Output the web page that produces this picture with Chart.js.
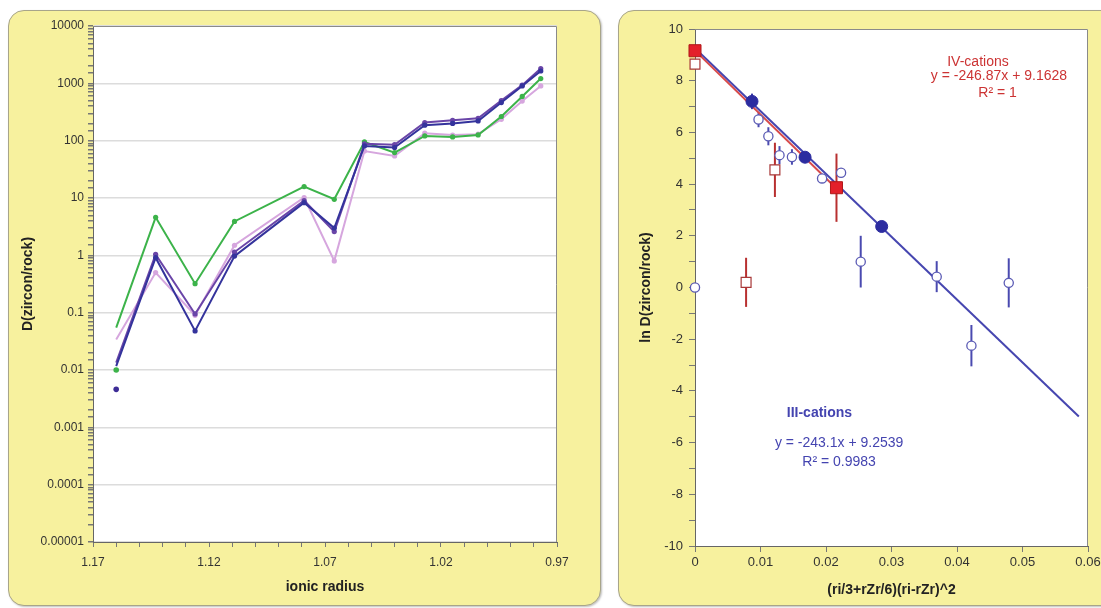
<!DOCTYPE html>
<html>
<head>
<meta charset="utf-8">
<script src="https://cdn.jsdelivr.net/npm/chart.js@4.4.0/dist/chart.umd.min.js"></script>
<style>
body { margin:0; width:1101px; height:608px; background:#fff; overflow:hidden; position:relative; font-family:"Liberation Sans", Arial, sans-serif; }
.panel { position:absolute; background:#f7f19e; border:1px solid #a8a58a; border-radius:16px; box-shadow:1px 1px 2px rgba(0,0,0,0.25); }
#p1 { left:8px; top:10px; width:591px; height:594px; }
#p2 { left:618px; top:10px; width:500px; height:594px; }
canvas { position:absolute; top:0; }
#c1 { left:0; }
#c2 { left:600px; }
</style>
</head>
<body>
<div class="panel" id="p1"></div>
<div class="panel" id="p2"></div>
<canvas id="c1" width="600" height="608"></canvas>
<canvas id="c2" width="501" height="608"></canvas>
<script>
// ---- left panel: D(zircon/rock) vs ionic radius (REE, La..Lu) ----
var radius  = [1.160, 1.143, 1.126, 1.109, 1.079, 1.066, 1.053, 1.040, 1.027, 1.015, 1.004, 0.994, 0.985, 0.977];
var greenD  = [0.055, 4.6, 0.32, 3.9, 15.8, 9.5, 95, 62, 121, 116, 126, 264, 590, 1210];
var pinkD   = [0.034, 0.50, 0.09, 1.5, 10.2, 0.8, 66, 54, 135, 125, 130, 236, 490, 900];
var purpleD = [0.0134, 1.04, 0.095, 1.14, 9.0, 2.6, 88, 85, 207, 227, 246, 500, 930, 1810];
var blueD   = [0.0117, 0.91, 0.048, 0.97, 8.3, 3.0, 81, 76, 186, 200, 221, 462, 900, 1640];
var laDotX  = [1.160, 1.160];
var laDotY  = [0.01, 0.0046];

// ---- right panel: ln D vs strain term ----
var ivSlope = -246.87, ivIntercept = 9.1628, ivFitX = [0, 0.0216];
var iiiSlope = -243.1, iiiIntercept = 9.2539, iiiFitX = [0, 0.0586];
var ivFilledX = [0, 0.0216];
var ivFilledY = [9.16, 3.86];
var ivFilledErr = [0, 1.32];
var iiiFilledX = [0.0087, 0.0168, 0.0285];
var iiiFilledY = [7.2, 5.04, 2.36];
var iiiFilledErr = [0.3, 0, 0];
var ivOpenX = [0, 0.0122, 0.0078];
var ivOpenY = [8.64, 4.55, 0.2];
var ivOpenErr = [0, 1.05, 0.95];
var iiiOpenX = [0, 0.0097, 0.0112, 0.0129, 0.0148, 0.0194, 0.0223, 0.0253, 0.0369, 0.0422, 0.0479];
var iiiOpenY = [0, 6.5, 5.85, 5.12, 5.05, 4.22, 4.44, 1.0, 0.42, -2.25, 0.18];
var iiiOpenErr = [0, 0.3, 0.35, 0.35, 0.3, 0, 0, 1.0, 0.6, 0.8, 0.95];

function pts(xs, ys) { return xs.map(function (x, i) { return {x: x, y: ys[i]}; }); }
function fit(xs, m, b) { return xs.map(function (x) { return {x: x, y: m * x + b}; }); }

Chart.defaults.font.family = '"Liberation Sans", Arial, sans-serif';
Chart.defaults.color = '#333';

// white plot area + grey frame
var framePlugin = {
    id: 'frame',
    beforeDraw: function (chart) {
        var a = chart.chartArea, c = chart.ctx;
        c.save();
        c.fillStyle = '#fff';
        c.fillRect(a.left, a.top, a.right - a.left, a.bottom - a.top);
        c.restore();
    },
    afterDraw: function (chart) {
        var a = chart.chartArea, c = chart.ctx;
        c.save();
        c.strokeStyle = '#8a8a8a';
        c.lineWidth = 1;
        c.beginPath();
        c.moveTo(a.left, a.top + 0.5);
        c.lineTo(a.right - 0.5, a.top + 0.5);
        c.lineTo(a.right - 0.5, a.bottom);
        c.stroke();
        c.restore();
    }
};

// vertical error bars from dataset.errorBars
var errorBarPlugin = {
    id: 'errorBars',
    beforeDatasetsDraw: function (chart) {
        var c = chart.ctx, xs = chart.scales.x, ys = chart.scales.y;
        chart.data.datasets.forEach(function (ds) {
            if (!ds.errorBars) return;
            c.save();
            c.strokeStyle = ds.errorColor;
            c.lineWidth = 2;
            ds.data.forEach(function (p, i) {
                var e = ds.errorBars[i];
                if (!e) return;
                var px = xs.getPixelForValue(p.x);
                c.beginPath();
                c.moveTo(px, ys.getPixelForValue(p.y - e));
                c.lineTo(px, ys.getPixelForValue(p.y + e));
                c.stroke();
            });
            c.restore();
        });
    }
};

// regression labels, placed in data units
var notes = [
    {text: 'IV-cations', x: 0.0432, y: 8.73, color: '#cc3333', bold: false},
    {text: 'y = -246.87x + 9.1628', x: 0.0464, y: 8.19, color: '#cc3333', bold: false},
    {text: 'R\u00b2 = 1', x: 0.0462, y: 7.53, color: '#cc3333', bold: false},
    {text: 'III-cations', x: 0.0190, y: -4.87, color: '#4444b0', bold: true},
    {text: 'y = -243.1x + 9.2539', x: 0.0220, y: -6.03, color: '#4444b0', bold: false},
    {text: 'R\u00b2 = 0.9983', x: 0.0220, y: -6.75, color: '#4444b0', bold: false}
];
var notePlugin = {
    id: 'notes',
    afterDatasetsDraw: function (chart) {
        var c = chart.ctx;
        c.save();
        c.textAlign = 'center';
        c.textBaseline = 'middle';
        notes.forEach(function (n) {
            c.font = (n.bold ? 'bold ' : '') + '14px "Liberation Sans", Arial, sans-serif';
            c.fillStyle = n.color;
            c.fillText(n.text, chart.scales.x.getPixelForValue(n.x), chart.scales.y.getPixelForValue(n.y));
        });
        c.restore();
    }
};

function isDecade(v) { var e = Math.log10(v); return Math.abs(e - Math.round(e)) < 1e-6; }

function series(data, color, width) {
    return {
        data: pts(radius, data),
        borderColor: color,
        backgroundColor: color,
        borderWidth: width,
        pointRadius: function (ctx) { return ctx.dataIndex === 0 ? 0 : 2.6; },
        pointBorderWidth: 0,
        tension: 0
    };
}

new Chart(document.getElementById('c1'), {
    type: 'line',
    data: {
        datasets: [
            {data: pts(laDotX, laDotY), showLine: false, pointRadius: 2.8, pointBorderWidth: 0,
             backgroundColor: ['#3cb34a', '#3d2c96']},
            series(blueD, '#34339c', 2),
            series(purpleD, '#6a45a8', 2),
            series(greenD, '#3cb34a', 2),
            series(pinkD, '#d6a6de', 2)
        ]
    },
    options: {
        responsive: false,
        animation: false,
        layout: {padding: {left: 0, top: 26, right: 43, bottom: 0}},
        plugins: {legend: {display: false}, tooltip: {enabled: false}},
        scales: {
            x: {
                type: 'linear', reverse: true, min: 0.97, max: 1.17,
                afterFit: function (s) { s.height = 66; s.paddingLeft = 0; s.paddingRight = 0; },
                ticks: {
                    stepSize: 0.01, autoSkip: false, maxRotation: 0, padding: 8, color: '#333', font: {size: 12},
                    callback: function (v) { return Math.round(v * 100) % 5 === 2 ? v.toFixed(2) : ''; }
                },
                grid: {drawOnChartArea: false, tickLength: 5, color: '#777'},
                border: {color: '#666'},
                title: {display: true, text: 'ionic radius', color: '#222', font: {size: 14, weight: 'bold'}, padding: {top: 0, bottom: 12.6}}
            },
            y: {
                type: 'logarithmic', min: 1e-5, max: 1e4,
                afterFit: function (s) { s.width = 93; s.paddingTop = 0; s.paddingBottom = 0; },
                ticks: {
                    autoSkip: false, padding: 4, color: '#333', font: {size: 12},
                    callback: function (v) { return isDecade(v) ? String(Number('1e' + Math.round(Math.log10(v)))) : ''; }
                },
                grid: {
                    tickLength: 5,
                    color: function (ctx) { return ctx.tick && isDecade(ctx.tick.value) ? '#dcdcdc' : 'rgba(0,0,0,0)'; },
                    lineWidth: 1.5,
                    tickColor: '#777'
                },
                border: {color: '#666'},
                title: {display: true, text: 'D(zircon/rock)', color: '#222', font: {size: 14, weight: 'bold'}, padding: {top: 19.6}}
            }
        }
    },
    plugins: [framePlugin]
});

new Chart(document.getElementById('c2'), {
    type: 'scatter',
    data: {
        datasets: [
            {data: pts(ivFilledX, ivFilledY), pointStyle: 'rect', pointRadius: 8.5, backgroundColor: '#e3202a',
             borderColor: '#b01818', pointBorderWidth: 1, errorBars: ivFilledErr, errorColor: '#b83030'},
            {data: pts(iiiFilledX, iiiFilledY), pointStyle: 'circle', pointRadius: 6, backgroundColor: '#2c2ca0',
             borderColor: '#2c2ca0', pointBorderWidth: 1, errorBars: iiiFilledErr, errorColor: '#3a3aa8'},
            {data: pts(ivOpenX, ivOpenY), pointStyle: 'rect', pointRadius: 7, backgroundColor: '#fff',
             borderColor: '#a83838', pointBorderWidth: 1.2, errorBars: ivOpenErr, errorColor: '#b83030'},
            {data: pts(iiiOpenX, iiiOpenY), pointStyle: 'circle', pointRadius: 4.6, backgroundColor: '#fff',
             borderColor: '#5a5ab4', pointBorderWidth: 1.3, errorBars: iiiOpenErr, errorColor: '#4a4ab0'},
            {data: fit(ivFitX, ivSlope, ivIntercept), showLine: true, pointRadius: 0, borderColor: '#d84a4a', borderWidth: 2},
            {data: fit(iiiFitX, iiiSlope, iiiIntercept), showLine: true, pointRadius: 0, borderColor: '#4646b0', borderWidth: 2}
        ]
    },
    options: {
        responsive: false,
        animation: false,
        clip: false,
        layout: {padding: {left: 0, top: 29, right: 13, bottom: 0}},
        plugins: {legend: {display: false}, tooltip: {enabled: false}},
        scales: {
            x: {
                type: 'linear', min: 0, max: 0.06,
                afterFit: function (s) { s.height = 62; s.paddingLeft = 0; s.paddingRight = 0; },
                ticks: {
                    stepSize: 0.01, autoSkip: false, maxRotation: 0, padding: 3, color: '#333', font: {size: 13},
                    callback: function (v) { return String(+v.toFixed(2)); }
                },
                grid: {drawOnChartArea: false, tickLength: 6, color: '#777'},
                border: {color: '#666'},
                title: {display: true, text: '(ri/3+rZr/6)(ri-rZr)^2', color: '#222', font: {size: 14, weight: 'bold'}, padding: {top: 0, bottom: 9.6}}
            },
            y: {
                type: 'linear', min: -10, max: 10,
                afterFit: function (s) { s.width = 95; s.paddingTop = 0; s.paddingBottom = 0; },
                ticks: {
                    stepSize: 1, autoSkip: false, padding: 6, color: '#333', font: {size: 13},
                    callback: function (v) { return v % 2 === 0 ? String(v) : ''; }
                },
                grid: {drawOnChartArea: false, tickLength: 6, color: '#777'},
                border: {color: '#666'},
                title: {display: true, text: 'ln D(zircon/rock)', color: '#222', font: {size: 14, weight: 'bold'}, padding: {top: 38}}
            }
        }
    },
    plugins: [framePlugin, errorBarPlugin, notePlugin]
});
</script>
</body>
</html>
